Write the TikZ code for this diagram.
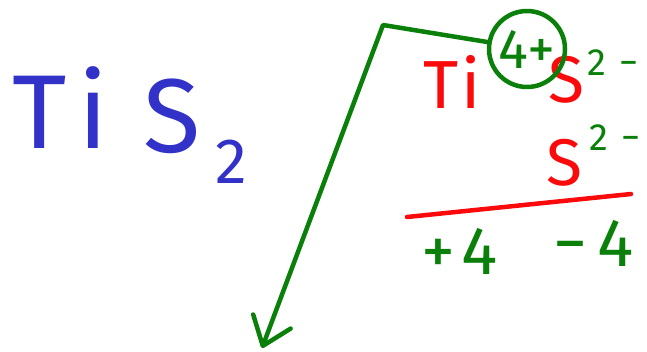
\documentclass[tikz,border=0pt]{standalone}
\usepackage{fontspec}
\setmainfont{Fira Sans}
\usetikzlibrary{arrows.meta,positioning}
\definecolor{bl}{RGB}{50,50,200}
\definecolor{rd}{RGB}{250,10,10}
\definecolor{gn}{RGB}{10,128,10}

\begin{document}
\begin{tikzpicture}[x=1pt,y=-1pt,
    hw/.style={inner sep=0pt,anchor=base,text=#1},
    pen/.style={draw=#1,line width=4.5pt,line cap=round,line join=round},
]
\clip (0,0) rectangle (647,351);

% Left formula
\node[hw=bl,font=\fontsize{105}{105}\selectfont] (ti) at (60,148) {T\hspace{12pt}i};
\node[hw=bl,font=\fontsize{105}{105}\selectfont] (s) at (172,152) {S};
\node[hw=bl,font=\fontsize{64}{64}\selectfont] (two) at (231,183) {2};

% Ions
\node[hw=rd,font=\fontsize{68}{68}\selectfont] (tiion) at (452,108) {T\hspace{3pt}i};
\node[hw=rd,font=\fontsize{66}{66}\selectfont] (sa) at (566,102) {S};
\node[hw=gn,font=\fontsize{38}{38}\selectfont,anchor=base west] (qa) at (587,75) {2\hspace{13pt}−};
\node[hw=rd,font=\fontsize{66}{66}\selectfont] (sb) at (564,185) {S};
\node[hw=gn,font=\fontsize{38}{38}\selectfont,anchor=base west] (qb) at (589,150) {2\hspace{13pt}−};

% Charge circle
\node[circle,pen=gn,minimum size=76pt,inner sep=0pt,text=gn,font=\fontsize{56}{56}\selectfont] (ox) at (527,49) {4+};

% Sum line
\coordinate (ul) at (407,217);
\coordinate (ur) at (631,194);
\draw[pen=rd] (ul) -- (ur);

% Totals
\node[hw=gn,font=\fontsize{68}{68}\selectfont] (pos) at (460,274) {+\hspace{6pt}4};
\node[hw=gn,font=\fontsize{68}{68}\selectfont] (neg) at (594,266) {−\hspace{10pt}4};

% Arrow
\coordinate (bend) at (383,25);
\coordinate (tip) at (262,348);
\draw[pen=gn,-{Straight Barb[length=26pt,width=40pt,round]}] (ox.170) -- (bend) -- (tip);
\end{tikzpicture}
\end{document}
